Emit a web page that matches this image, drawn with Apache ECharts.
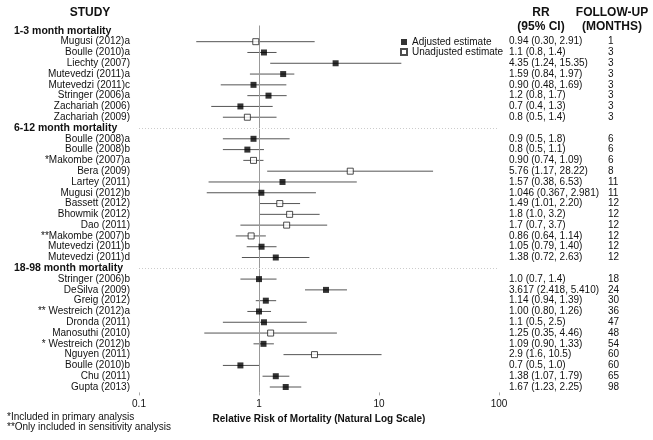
<!DOCTYPE html>
<html><head><meta charset="utf-8">
<script src="https://cdn.jsdelivr.net/npm/echarts@6/dist/echarts.min.js"></script>
<style>html,body{margin:0;padding:0;background:#fff}#c{width:653px;height:440px}</style>
</head><body><div id="c"></div>
<script>
// ---- data ----
const sections = ['1-3 month mortality', '6-12 month mortality', '18-98 month mortality'];
const sectionCounts = [8, 12, 11];
const studies = [
  'Mugusi (2012)a','Boulle (2010)a','Liechty (2007)','Mutevedzi (2011)a','Mutevedzi (2011)c','Stringer (2006)a','Zachariah (2006)','Zachariah (2009)',
  'Boulle (2008)a','Boulle (2008)b','*Makombe (2007)a','Bera (2009)','Lartey (2011)','Mugusi (2012)b','Bassett (2012)','Bhowmik (2012)','Dao (2011)','**Makombe (2007)b','Mutevedzi (2011)b','Mutevedzi (2011)d',
  'Stringer (2006)b','DeSilva (2009)','Greig (2012)','** Westreich (2012)a','Dronda (2011)','Manosuthi (2010)','* Westreich (2012)b','Nguyen (2011)','Boulle (2010)b','Chu (2011)','Gupta (2013)'
];
const rr    = [0.94,1.1,4.35,1.59,0.90,1.2,0.7,0.8, 0.9,0.8,0.90,5.76,1.57,1.046,1.49,1.8,1.7,0.86,1.05,1.38, 1.0,3.617,1.14,1.00,1.1,1.25,1.09,2.9,0.7,1.38,1.67];
const lower = [0.30,0.8,1.24,0.84,0.48,0.8,0.4,0.5, 0.5,0.5,0.74,1.17,0.38,0.367,1.01,1.0,0.7,0.64,0.79,0.72, 0.7,2.418,0.94,0.80,0.5,0.35,0.90,1.6,0.5,1.07,1.23];
const upper = [2.91,1.4,15.35,1.97,1.69,1.7,1.3,1.4, 1.8,1.1,1.09,28.22,6.53,2.981,2.20,3.2,3.7,1.14,1.40,2.63, 1.4,5.410,1.39,1.26,2.5,4.46,1.33,10.5,1.0,1.79,2.25];
const adjusted = [0,1,1,1,1,1,1,0, 1,1,0,0,1,1,0,0,0,0,1,1, 1,1,1,1,1,0,1,0,1,1,1];
const rrLabels = [
  '0.94 (0.30, 2.91)','1.1 (0.8, 1.4)','4.35 (1.24, 15.35)','1.59 (0.84, 1.97)','0.90 (0.48, 1.69)','1.2 (0.8, 1.7)','0.7 (0.4, 1.3)','0.8 (0.5, 1.4)',
  '0.9 (0.5, 1.8)','0.8 (0.5, 1.1)','0.90 (0.74, 1.09)','5.76 (1.17, 28.22)','1.57 (0.38, 6.53)','1.046 (0.367, 2.981)','1.49 (1.01, 2.20)','1.8 (1.0, 3.2)','1.7 (0.7, 3.7)','0.86 (0.64, 1.14)','1.05 (0.79, 1.40)','1.38 (0.72, 2.63)',
  '1.0 (0.7, 1.4)','3.617 (2.418, 5.410)','1.14 (0.94, 1.39)','1.00 (0.80, 1.26)','1.1 (0.5, 2.5)','1.25 (0.35, 4.46)','1.09 (0.90, 1.33)','2.9 (1.6, 10.5)','0.7 (0.5, 1.0)','1.38 (1.07, 1.79)','1.67 (1.23, 2.25)'
];
const followUp = [1,3,3,3,3,3,3,3, 6,6,6,8,11,11,12,12,12,12,12,12, 18,24,30,36,47,48,54,60,60,65,98];
const xTicks = [0.1, 1, 10, 100];
const seriesNames = ['Adjusted estimate', 'Unadjusted estimate'];

// ---- build rows (section header rows + study rows) ----
const slots = [];
let k = 0;
sections.forEach((s, si) => {
  slots.push({type: 'h', text: s});
  for (let j = 0; j < sectionCounts[si]; j++) { slots.push({type: 's', text: studies[k], i: k}); k++; }
});
const cats = slots.map((s, idx) => 'r' + idx);
const headerIdx = slots.map((s, idx) => s.type === 'h' ? idx : -1).filter(v => v >= 0);

const adjData = [], unadjData = [], ciData = [];
slots.forEach((s, idx) => {
  if (s.type !== 's') return;
  const i = s.i;
  ciData.push([rr[i], idx, lower[i], upper[i]]);
  (adjusted[i] ? adjData : unadjData).push([rr[i], idx]);
});

const FONT = 'Liberation Sans, Arial, Helvetica, sans-serif';
const TXT = '#111';
const hiddenAxisParts = {axisLine: {show: false}, axisTick: {show: false}, splitLine: {show: false}};

const chart = echarts.init(document.getElementById('c'), null, {renderer: 'canvas'});
chart.setOption({
  animation: false,
  textStyle: {fontFamily: FONT},
  grid: {left: 139, right: 154, top: 25.5, height: 366.9},
  legend: {
    data: seriesNames, orient: 'vertical', left: 400, top: 37, padding: 0,
    itemWidth: 6, itemHeight: 6, itemGap: 0,
    textStyle: {fontSize: 10, color: TXT, lineHeight: 10, fontFamily: FONT}
  },
  xAxis: {
    type: 'log', logBase: 10, min: xTicks[0], max: xTicks[xTicks.length - 1],
    axisLine: {lineStyle: {color: '#aaa', width: 1}},
    axisTick: {show: true, length: 3, lineStyle: {color: '#aaa'}},
    splitLine: {show: false},
    axisLabel: {fontSize: 10, color: TXT, margin: 7, fontFamily: FONT,
      formatter: v => String(xTicks.find(t => Math.abs(Math.log10(t) - Math.log10(v)) < 1e-6) ?? '')},
    name: 'Relative Risk of Mortality (Natural Log Scale)', nameLocation: 'middle', nameGap: 21,
    nameTextStyle: {fontSize: 10, fontWeight: 'bold', color: TXT, fontFamily: FONT}
  },
  yAxis: [
    Object.assign({type: 'category', data: cats, inverse: true, position: 'left',
      axisLabel: {fontSize: 10, color: TXT, margin: 9, fontFamily: FONT, interval: 0,
        formatter: (v, idx) => slots[idx].type === 's' ? slots[idx].text : ''}}, hiddenAxisParts),
    Object.assign({type: 'category', data: cats, inverse: true, position: 'left',
      axisLabel: {fontSize: 10.5, fontWeight: 'bold', color: TXT, margin: 125, align: 'left', fontFamily: FONT, interval: 0,
        formatter: (v, idx) => slots[idx].type === 'h' ? slots[idx].text : ''}}, hiddenAxisParts),
    Object.assign({type: 'category', data: cats, inverse: true, position: 'right',
      axisLabel: {fontSize: 10, color: TXT, margin: 10, align: 'left', fontFamily: FONT, interval: 0,
        formatter: (v, idx) => slots[idx].type === 's' ? rrLabels[slots[idx].i] : ''}}, hiddenAxisParts),
    Object.assign({type: 'category', data: cats, inverse: true, position: 'right',
      axisLabel: {fontSize: 10, color: TXT, margin: 109, align: 'left', fontFamily: FONT, interval: 0,
        formatter: (v, idx) => slots[idx].type === 's' ? String(followUp[slots[idx].i]) : ''}}, hiddenAxisParts)
  ],
  series: [
    {
      type: 'custom', name: 'CI', yAxisIndex: 0, data: ciData, z: 2,
      encode: {x: 0, y: 1},
      renderItem: (params, api) => {
        const y = api.value(1);
        const p1 = api.coord([api.value(2), y]);
        const p2 = api.coord([api.value(3), y]);
        return {type: 'line', shape: {x1: p1[0], y1: p1[1], x2: p2[0], y2: p2[1]},
          style: {stroke: '#555', lineWidth: 1}};
      },
      markLine: {
        silent: true, symbol: 'none', label: {show: false},
        data: [
          {xAxis: 1, lineStyle: {color: '#999', width: 1, type: 'solid'}},
          ...headerIdx.slice(1).map(h => ({yAxis: h, lineStyle: {color: '#ccc', width: 1, type: [1, 2]}}))
        ]
      }
    },
    {
      type: 'scatter', name: seriesNames[0], yAxisIndex: 0, data: adjData, z: 5,
      symbol: 'rect', symbolSize: 6, itemStyle: {color: '#000'}
    },
    {
      type: 'scatter', name: seriesNames[1], yAxisIndex: 0, data: unadjData, z: 5,
      symbol: 'rect', symbolSize: 6, itemStyle: {color: '#fff', borderColor: '#222', borderWidth: 1}
    }
  ],
  graphic: [
    {type: 'text', style: {text: 'STUDY', x: 90, y: 12.5, align: 'center', verticalAlign: 'middle', font: 'bold 12px ' + FONT, fill: TXT}},
    {type: 'text', style: {text: 'RR', x: 541, y: 12.5, align: 'center', verticalAlign: 'middle', font: 'bold 12px ' + FONT, fill: TXT}},
    {type: 'text', style: {text: '(95% CI)', x: 541, y: 26.5, align: 'center', verticalAlign: 'middle', font: 'bold 12px ' + FONT, fill: TXT}},
    {type: 'text', style: {text: 'FOLLOW-UP', x: 612, y: 12.5, align: 'center', verticalAlign: 'middle', font: 'bold 12px ' + FONT, fill: TXT}},
    {type: 'text', style: {text: '(MONTHS)', x: 612, y: 26.5, align: 'center', verticalAlign: 'middle', font: 'bold 12px ' + FONT, fill: TXT}},
    {type: 'text', style: {text: '*Included in primary analysis', x: 7, y: 417, verticalAlign: 'middle', font: '10px ' + FONT, fill: TXT}},
    {type: 'text', style: {text: '**Only included in sensitivity analysis', x: 7, y: 427.5, verticalAlign: 'middle', font: '10px ' + FONT, fill: TXT}}
  ]
});
</script></body></html>
